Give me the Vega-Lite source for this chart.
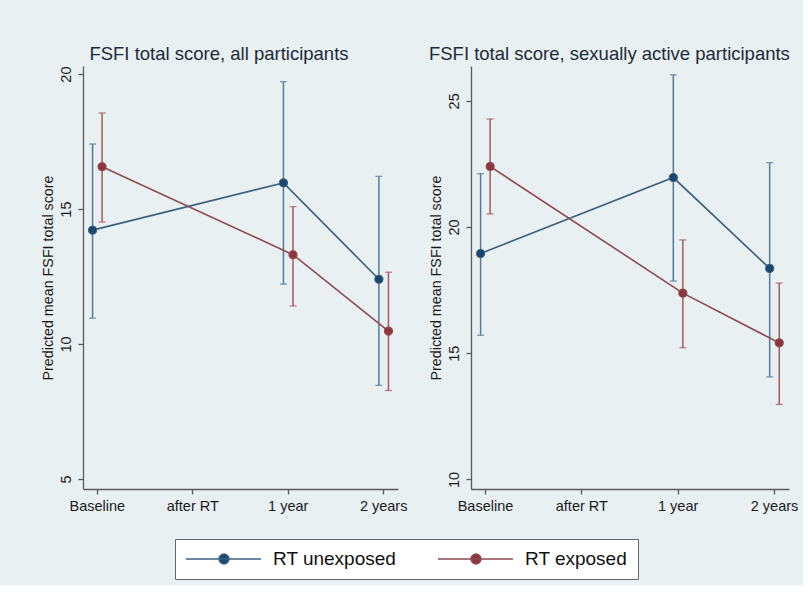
{
  "$schema": "https://vega.github.io/schema/vega-lite/v6.json",
  "background": "#e8f0f2",
  "padding": {"left": 41, "top": 44, "right": 5, "bottom": 5},
  "datasets": {
    "fsfi": [
      {"panel": "all", "time": "Baseline", "t": 0, "group": "RT unexposed", "est": 14.22, "lo": 10.96, "hi": 17.41},
      {"panel": "all", "time": "1 year", "t": 2, "group": "RT unexposed", "est": 15.97, "lo": 12.22, "hi": 19.72},
      {"panel": "all", "time": "2 years", "t": 3, "group": "RT unexposed", "est": 12.40, "lo": 8.47, "hi": 16.21},
      {"panel": "all", "time": "Baseline", "t": 0, "group": "RT exposed", "est": 16.57, "lo": 14.52, "hi": 18.56},
      {"panel": "all", "time": "1 year", "t": 2, "group": "RT exposed", "est": 13.31, "lo": 11.41, "hi": 15.09},
      {"panel": "all", "time": "2 years", "t": 3, "group": "RT exposed", "est": 10.48, "lo": 8.28, "hi": 12.66},
      {"panel": "active", "time": "Baseline", "t": 0, "group": "RT unexposed", "est": 18.95, "lo": 15.71, "hi": 22.11},
      {"panel": "active", "time": "1 year", "t": 2, "group": "RT unexposed", "est": 21.96, "lo": 17.86, "hi": 26.03},
      {"panel": "active", "time": "2 years", "t": 3, "group": "RT unexposed", "est": 18.36, "lo": 14.06, "hi": 22.55},
      {"panel": "active", "time": "Baseline", "t": 0, "group": "RT exposed", "est": 22.40, "lo": 20.52, "hi": 24.28},
      {"panel": "active", "time": "1 year", "t": 2, "group": "RT exposed", "est": 17.38, "lo": 15.22, "hi": 19.49},
      {"panel": "active", "time": "2 years", "t": 3, "group": "RT exposed", "est": 15.41, "lo": 12.97, "hi": 17.78}
    ]
  },
  "spacing": 21,
  "hconcat": [
    {
      "data": {"name": "fsfi"},
      "transform": [{"filter": "datum.panel === 'all'"}],
      "width": 315,
      "height": 423,
      "title": {"text": "FSFI total score, all participants", "dx": -5},
      "encoding": {
        "x": {"field": "time", "type": "nominal", "title": null,
              "scale": {"domain": ["Baseline", "after RT", "1 year", "2 years"], "paddingInner": 0.8, "paddingOuter": 0.05}},
        "xOffset": {"field": "group", "type": "nominal",
                    "scale": {"domain": ["RT unexposed", "RT exposed"], "paddingInner": 0, "paddingOuter": 0}}
      },
      "layer": [
        {
          "mark": {"type": "rule", "strokeWidth": 1.5},
          "encoding": {
            "y": {"field": "lo", "type": "quantitative", "title": "Predicted mean FSFI total score",
                  "scale": {"domain": [4.63, 20.3], "nice": false, "zero": false}, "axis": {"values": [5, 10, 15, 20]}},
            "y2": {"field": "hi"},
            "color": {"condition": {"test": "datum.group === 'RT unexposed'", "value": "#56799a"}, "value": "#a45a60"}
          }
        },
        {
          "mark": {"type": "tick", "orient": "horizontal", "size": 7, "thickness": 1.4},
          "encoding": {
            "y": {"field": "lo", "type": "quantitative", "title": "Predicted mean FSFI total score",
                  "scale": {"domain": [4.63, 20.3], "nice": false, "zero": false}, "axis": {"values": [5, 10, 15, 20]}},
            "color": {"condition": {"test": "datum.group === 'RT unexposed'", "value": "#56799a"}, "value": "#a45a60"}
          }
        },
        {
          "mark": {"type": "tick", "orient": "horizontal", "size": 7, "thickness": 1.4},
          "encoding": {
            "y": {"field": "hi", "type": "quantitative", "title": "Predicted mean FSFI total score",
                  "scale": {"domain": [4.63, 20.3], "nice": false, "zero": false}, "axis": {"values": [5, 10, 15, 20]}},
            "color": {"condition": {"test": "datum.group === 'RT unexposed'", "value": "#56799a"}, "value": "#a45a60"}
          }
        },
        {
          "mark": {"type": "line", "strokeWidth": 1.6},
          "encoding": {
            "y": {"field": "est", "type": "quantitative", "title": "Predicted mean FSFI total score",
                  "scale": {"domain": [4.63, 20.3], "nice": false, "zero": false}, "axis": {"values": [5, 10, 15, 20]}},
            "detail": {"field": "group"},
            "order": {"field": "t", "type": "quantitative"},
            "color": {"condition": {"test": "datum.group === 'RT unexposed'", "value": "#3d5f7e"}, "value": "#8e4a50"}
          }
        },
        {
          "mark": {"type": "point", "filled": true, "size": 66, "opacity": 1, "strokeWidth": 1},
          "encoding": {
            "y": {"field": "est", "type": "quantitative", "title": "Predicted mean FSFI total score",
                  "scale": {"domain": [4.63, 20.3], "nice": false, "zero": false}, "axis": {"values": [5, 10, 15, 20]}},
            "color": {"field": "group", "type": "nominal",
                      "scale": {"domain": ["RT unexposed", "RT exposed"], "range": ["#1a476f", "#90353b"]},
                      "legend": {
                        "orient": "none", "legendX": 92, "legendY": 473,
                        "direction": "horizontal", "title": null,
                        "symbolType": "M-1,0H7.33M2.67,0A0.55,0.55,0,1,1,3.77,0A0.55,0.55,0,1,1,2.67,0Z",
                        "symbolSize": 324, "symbolStrokeWidth": 1.5,
                        "labelFont": "Liberation Sans", "labelFontSize": 19, "labelColor": "#111111",
                        "labelOffset": 68, "columnPadding": 38,
                        "padding": 10, "fillColor": "#ffffff", "strokeColor": "#666666"
                      }},
            "stroke": {"field": "group", "type": "nominal",
                       "scale": {"domain": ["RT unexposed", "RT exposed"], "range": ["#3d5f7e", "#8e4a50"]},
                       "legend": {
                         "orient": "none", "legendX": 92, "legendY": 473,
                         "direction": "horizontal", "title": null,
                         "symbolType": "M-1,0H7.33M2.67,0A0.55,0.55,0,1,1,3.77,0A0.55,0.55,0,1,1,2.67,0Z",
                         "symbolSize": 324, "symbolStrokeWidth": 1.5,
                         "labelFont": "Liberation Sans", "labelFontSize": 19, "labelColor": "#111111",
                         "labelOffset": 68, "columnPadding": 38,
                         "padding": 10, "fillColor": "#ffffff", "strokeColor": "#666666"
                       }}
          }
        }
      ]
    },
    {
      "data": {"name": "fsfi"},
      "transform": [{"filter": "datum.panel === 'active'"}],
      "width": 318,
      "height": 423,
      "title": {"text": "FSFI total score, sexually active participants", "dx": -4},
      "encoding": {
        "x": {"field": "time", "type": "nominal", "title": null,
              "scale": {"domain": ["Baseline", "after RT", "1 year", "2 years"], "paddingInner": 0.8, "paddingOuter": 0.05}},
        "xOffset": {"field": "group", "type": "nominal",
                    "scale": {"domain": ["RT unexposed", "RT exposed"], "paddingInner": 0, "paddingOuter": 0}}
      },
      "layer": [
        {
          "mark": {"type": "rule", "strokeWidth": 1.5},
          "encoding": {
            "y": {"field": "lo", "type": "quantitative", "title": "Predicted mean FSFI total score",
                  "scale": {"domain": [9.62, 26.38], "nice": false, "zero": false}, "axis": {"values": [10, 15, 20, 25]}},
            "y2": {"field": "hi"},
            "color": {"condition": {"test": "datum.group === 'RT unexposed'", "value": "#56799a"}, "value": "#a45a60"}
          }
        },
        {
          "mark": {"type": "tick", "orient": "horizontal", "size": 7, "thickness": 1.4},
          "encoding": {
            "y": {"field": "lo", "type": "quantitative", "title": "Predicted mean FSFI total score",
                  "scale": {"domain": [9.62, 26.38], "nice": false, "zero": false}, "axis": {"values": [10, 15, 20, 25]}},
            "color": {"condition": {"test": "datum.group === 'RT unexposed'", "value": "#56799a"}, "value": "#a45a60"}
          }
        },
        {
          "mark": {"type": "tick", "orient": "horizontal", "size": 7, "thickness": 1.4},
          "encoding": {
            "y": {"field": "hi", "type": "quantitative", "title": "Predicted mean FSFI total score",
                  "scale": {"domain": [9.62, 26.38], "nice": false, "zero": false}, "axis": {"values": [10, 15, 20, 25]}},
            "color": {"condition": {"test": "datum.group === 'RT unexposed'", "value": "#56799a"}, "value": "#a45a60"}
          }
        },
        {
          "mark": {"type": "line", "strokeWidth": 1.6},
          "encoding": {
            "y": {"field": "est", "type": "quantitative", "title": "Predicted mean FSFI total score",
                  "scale": {"domain": [9.62, 26.38], "nice": false, "zero": false}, "axis": {"values": [10, 15, 20, 25]}},
            "detail": {"field": "group"},
            "order": {"field": "t", "type": "quantitative"},
            "color": {"condition": {"test": "datum.group === 'RT unexposed'", "value": "#3d5f7e"}, "value": "#8e4a50"}
          }
        },
        {
          "mark": {"type": "point", "filled": true, "size": 66, "opacity": 1, "strokeWidth": 1},
          "encoding": {
            "y": {"field": "est", "type": "quantitative", "title": "Predicted mean FSFI total score",
                  "scale": {"domain": [9.62, 26.38], "nice": false, "zero": false}, "axis": {"values": [10, 15, 20, 25]}},
            "color": {"field": "group", "type": "nominal",
                      "scale": {"domain": ["RT unexposed", "RT exposed"], "range": ["#1a476f", "#90353b"]}},
            "stroke": {"field": "group", "type": "nominal",
                       "scale": {"domain": ["RT unexposed", "RT exposed"], "range": ["#3d5f7e", "#8e4a50"]}}
          }
        }
      ]
    }
  ],
  "resolve": {"scale": {"color": "shared", "stroke": "shared"}},
  "config": {
    "font": "Liberation Sans",
    "view": {"stroke": null},
    "title": {"font": "Liberation Sans", "fontSize": 18.5, "fontWeight": "normal", "color": "#1e2a38", "anchor": "middle", "frame": "bounds", "offset": 3},
    "axis": {
      "grid": false, "domainColor": "#5a5a5a", "tickColor": "#5a5a5a", "domainWidth": 1.3, "tickWidth": 1.3, "tickSize": 5,
      "labelFont": "Liberation Sans", "labelFontSize": 14.5, "labelColor": "#1a1a1a",
      "titleFont": "Liberation Sans", "titleFontSize": 14.3, "titleFontWeight": "normal", "titleColor": "#1a1a1a"
    },
    "axisY": {"labelAngle": 270, "labelPadding": 5, "titlePadding": 3},
    "axisX": {"labelAngle": 0, "labelPadding": 5}
  }
}
